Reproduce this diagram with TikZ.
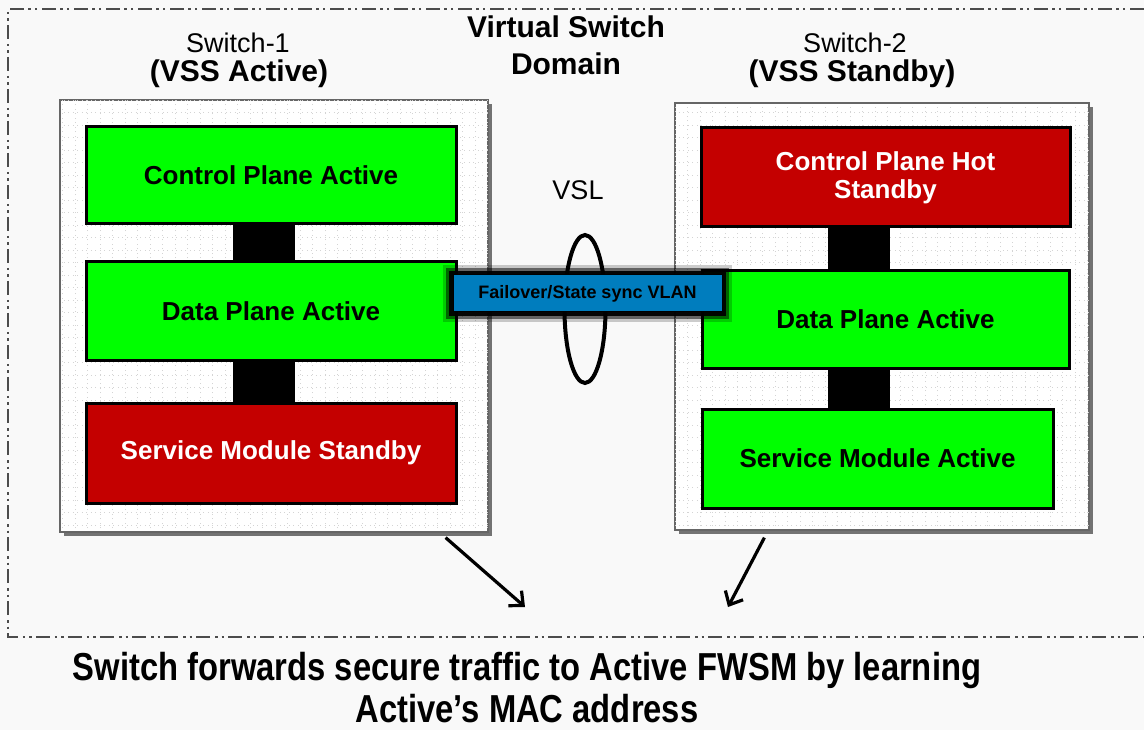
\documentclass[tikz,border=0pt]{standalone}
\usepackage{fontspec}
\setmainfont{Liberation Sans}
\newfontfamily\narrowfont[FakeStretch=0.84]{Liberation Sans}
\usetikzlibrary{arrows.meta}
\usetikzlibrary{shapes.geometric,shadows,positioning}

\definecolor{pagebg}{RGB}{249,249,249}
\definecolor{planegreen}{RGB}{0,255,0}
\definecolor{planered}{RGB}{196,0,0}
\definecolor{vlanblue}{RGB}{0,125,190}
\definecolor{gridgray}{RGB}{212,212,212}

\begin{document}
\begin{tikzpicture}[x=1pt,y=-1pt,
		domainline/.style={draw=black!70,line width=1.5pt,
			dash pattern=on 14pt off 5pt on 2.5pt off 4pt on 2.5pt off 4pt},
		fwdarrow/.style={line width=3.2pt,-{Straight Barb[length=11pt,width=20pt]}}]
	\useasboundingbox (0,0) rectangle (1144,730);
	\fill[pagebg] (0,0) rectangle (1144,730);

	% virtual switch domain
	\draw[domainline] (1144,9) -- (8,9) -- (8,637) -- (1144,637);

	\begin{scope}[every node/.style={rectangle,draw=black!60,line width=1.2pt,fill=white,
			drop shadow={shadow xshift=4pt,shadow yshift=-4pt,fill=black!55,opacity=1}}]
		\node[minimum width=428pt,minimum height=432pt] (sw1) at (274,316) {};
		\node[minimum width=414pt,minimum height=427pt] (sw2) at (882,316.5) {};
	\end{scope}

	\foreach \sw in {sw1,sw2}{
		\begin{scope}
			\clip (\sw.south west) rectangle (\sw.north east);
			\draw[gridgray,line width=0.7pt,dash pattern=on 1pt off 3.5pt,step=12.5pt]
				(\sw.south west) grid (\sw.north east);
		\end{scope}
		\draw[black!60,line width=1.2pt] (\sw.south west) rectangle (\sw.north east);
	}

	% titles
	\node[font=\fontsize{27}{30}\selectfont,anchor=base] (sw1name) at (238,53) {Switch-1};
	\node[font=\bfseries\fontsize{30}{32}\selectfont,anchor=base] (sw1role) at (239,82) {(VSS Active)};
	\node[font=\fontsize{27}{30}\selectfont,anchor=base] (sw2name) at (855,53) {Switch-2};
	\node[font=\bfseries\fontsize{30}{32}\selectfont,anchor=base] (sw2role) at (852,82) {(VSS Standby)};
	\node[font=\bfseries\fontsize{30}{32}\selectfont,anchor=base] (vsdtop) at (566,38) {Virtual Switch};
	\node[font=\bfseries\fontsize{30}{32}\selectfont,anchor=base] (vsdbot) at (566,75) {Domain};

	% planes
	\begin{scope}[every node/.style={rectangle,draw=black,line width=3pt,align=center,
			font=\bfseries\fontsize{26}{28}\selectfont}]
		\node[fill=planegreen,minimum width=370pt,minimum height=97pt] (cp1) at (271,175.5) {Control Plane Active};
		\node[fill=planegreen,minimum width=370pt,minimum height=98pt] (dp1) at (271,311) {Data Plane Active};
		\node[fill=planered,text=white,minimum width=370pt,minimum height=100pt] (sm1) at (271,453) {Service Module Standby};
		\node[fill=planered,text=white,minimum width=369pt,minimum height=99pt] (cp2) at (885.5,177.5) {Control Plane Hot\\Standby};
		\node[fill=planegreen,minimum width=367pt,minimum height=97pt] (dp2) at (885.5,319.5) {Data Plane Active};
		\node[fill=planegreen,minimum width=351pt,minimum height=99pt] (sm2) at (877.5,458.5) {Service Module Active};
	\end{scope}

	\begin{scope}[line width=62pt]
		\draw ([xshift=-7pt]cp1.south) -- ([xshift=-7pt]dp1.north);
		\draw ([xshift=-7pt]dp1.south) -- ([xshift=-7pt]sm1.north);
		\draw ([xshift=-27pt]cp2.south) -- ([xshift=-27pt]dp2.north);
		\draw ([xshift=-27pt]dp2.south) -- ([xshift=-19pt]sm2.north);
	\end{scope}

	% VSL
	\node[font=\fontsize{27}{30}\selectfont,anchor=base] (vsllabel) at (578,200) {VSL};
	\node[ellipse,draw=black,line width=4pt,minimum width=41pt,minimum height=148pt] (vslring) at (585,309) {};
	\node[rectangle,fill=vlanblue,draw=black,line width=1pt,minimum width=269pt,minimum height=37pt,
		font=\bfseries\fontsize{18}{20}\selectfont,
		preaction={draw=black,line width=20pt,opacity=0.2,rounded corners=10pt},
		preaction={draw=black,line width=14pt,opacity=0.5,rounded corners=7pt},
		preaction={draw=black,line width=8pt,opacity=0.95,rounded corners=4pt}] (vlan) at (587.5,293.5) {Failover/State sync VLAN};

	% forwarding
	\coordinate (fwd1) at (525,607);
	\coordinate (fwd2) at (728,607);
	\draw[fwdarrow] ([xshift=-43pt,yshift=-5pt]sw1.south east) -- (fwd1);
	\draw[fwdarrow] ([xshift=90pt,yshift=-7pt]sw2.south west) -- (fwd2);

	\node[font=\narrowfont\bfseries\fontsize{39}{42}\selectfont,anchor=base] (notetop) at (527,680)
		{Switch forwards secure traffic to Active FWSM by learning};
	\node[font=\narrowfont\bfseries\fontsize{39}{42}\selectfont,anchor=base] (notebot) at (527,722)
		{Active’s MAC address};
\end{tikzpicture}
\end{document}
